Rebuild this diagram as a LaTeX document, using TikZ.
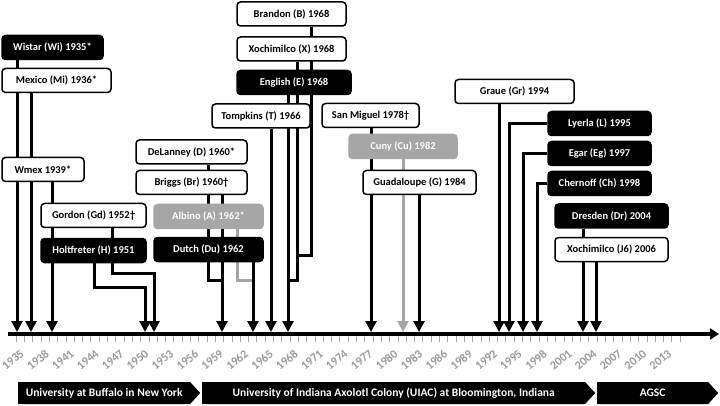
\documentclass[tikz,border=0pt]{standalone}
\usepackage{fontspec}
\setmainfont{Carlito}
\usetikzlibrary{arrows.meta,backgrounds,shapes.symbols}
\definecolor{straingray}{RGB}{166,166,166}
\definecolor{yeargray}{RGB}{155,155,155}
\definecolor{tickgray}{RGB}{170,170,170}

\begin{document}
\begin{tikzpicture}[
			x=1pt, y=-1pt,
			font=\bfseries\fontsize{10.5}{12}\selectfont,
			strain/.style={draw=black, line width=1.5pt, fill=white, rectangle, rounded corners=3.5pt, minimum height=24pt, inner sep=0pt, align=center, text=black},
			darkstrain/.style={strain, fill=black, text=white},
			graystrain/.style={strain, draw=straingray, fill=straingray, text=white},
			link/.style={draw=black, line width=3pt, -{Triangle[width=11pt,length=11pt]}},
			graylink/.style={link, draw=straingray},
			mergeline/.style={draw=black, line width=3pt},
			graymerge/.style={mergeline, draw=straingray},
			era/.style={signal, signal to=east, signal from=nowhere, signal pointer angle=95, fill=black, text=white, minimum height=22pt, inner sep=0pt, anchor=west, font=\bfseries\fontsize{11.5}{13}\selectfont},
			yearlabel/.style={rotate=40, anchor=east, text=yeargray, inner sep=0pt, font=\bfseries\fontsize{12}{14}\selectfont}
			]
			\useasboundingbox (0,0) rectangle (720,406);
			
			% Time axis with yearly ticks
			\coordinate (axis-start) at (8,334);
			\coordinate (axis-end) at (719,334);
			\draw[line width=4pt, -{Triangle[width=11pt,length=9pt]}] (axis-start) -- (axis-end);
			\foreach \yr in {1935,...,2015}
				\draw[tickgray, line width=0.6pt] ({16+8.3*(\yr-1935)},336) -- ++(0,6);
			\foreach \yr in {1935,1938,...,2013}
				\node[yearlabel] at ({16+8.3*(\yr-1935)+6.5},352) {\yr};
			
			% Arrival points on the axis
			\coordinate (hit-wi) at (17,332);
			\coordinate (hit-mi) at (31,332);
			\coordinate (hit-wm) at (52,332);
			\coordinate (hit-ho) at (145,332);
			\coordinate (hit-gd) at (154,332);
			\coordinate (hit-br) at (222,332);
			\coordinate (hit-du) at (253,332);
			\coordinate (hit-tp) at (271,332);
			\coordinate (hit-en) at (288,332);
			\coordinate (hit-sm) at (371,332);
			\coordinate (hit-cu) at (403,332);
			\coordinate (hit-gu) at (419,332);
			\coordinate (hit-gr) at (499,332);
			\coordinate (hit-ly) at (509,332);
			\coordinate (hit-eg) at (523,332);
			\coordinate (hit-ch) at (537,332);
			\coordinate (hit-dr) at (583,332);
			\coordinate (hit-j6) at (596,332);
			
			% Buffalo strains
			\node[darkstrain, minimum width=101pt] (wi) at (52.5,47.5) {Wistar (Wi) 1935*};
			\node[strain, minimum width=109pt] (mi) at (56.5,80.5) {Mexico (Mi) 1936*};
			\node[strain, minimum width=82pt] (wm) at (43,169.5) {Wmex 1939*};
			\node[strain, minimum width=105pt] (gd) at (93.5,215.5) {Gordon (Gd) 1952†};
			\node[darkstrain, minimum width=105pt] (ho) at (93.5,250.5) {Holtfreter (H) 1951};
			
			% Strains of the sixties
			\node[strain, minimum width=111pt] (de) at (191.5,152) {DeLanney (D) 1960*};
			\node[strain, minimum width=111pt] (br) at (191.5,182.5) {Briggs (Br) 1960†};
			\node[graystrain, minimum width=109pt] (al) at (208.5,216.5) {Albino (A) 1962*};
			\node[darkstrain, minimum width=109pt] (du) at (208.5,249.5) {Dutch (Du) 1962};
			\node[strain, minimum width=109pt] (bd) at (291.5,14) {Brandon (B) 1968};
			\node[strain, minimum width=109pt] (xo) at (291.5,49) {Xochimilco (X) 1968};
			\node[darkstrain, minimum width=114pt] (en) at (294,82.5) {English (E) 1968};
			\node[strain, minimum width=98pt] (tp) at (261,116) {Tompkins (T) 1966};
			
			% Strains of the seventies and eighties
			\node[strain, minimum width=97pt] (sm) at (370.5,115.5) {San Miguel 1978†};
			\node[graystrain, minimum width=108pt] (cu) at (403,146.5) {Cuny (Cu) 1982};
			\node[strain, minimum width=113pt] (gu) at (419.5,182.5) {Guadaloupe (G) 1984};
			
			% Strains of the nineties and later
			\node[strain, minimum width=119pt] (gr) at (514.5,91.5) {Graue (Gr) 1994};
			\node[darkstrain, minimum width=103pt] (ly) at (599.5,123.5) {Lyerla (L) 1995};
			\node[darkstrain, minimum width=103pt] (eg) at (599.5,153.5) {Egar (Eg) 1997};
			\node[darkstrain, minimum width=103pt] (ch) at (599.5,183.5) {Chernoff (Ch) 1998};
			\node[darkstrain, minimum width=113pt] (dr) at (611.5,216) {Dresden (Dr) 2004};
			\node[strain, minimum width=113pt] (j6) at (611.5,249.5) {Xochimilco (J6) 2006};
			
			% Lines to the axis, behind the boxes
			\begin{scope}[on background layer]
				\draw[link] (wi.south -| hit-wi) -- (hit-wi);
				\draw[link] (mi.south -| hit-mi) -- (hit-mi);
				\draw[link] (wm.south -| hit-wm) -- (hit-wm);
				\draw[link] (ho.south -| 94,0) -- ++(0,24) -| (hit-ho);
				\draw[link] (gd.south -| 112,0) -- ++(0,45) -| (hit-gd);
				\draw[mergeline] (de.south -| 208,0) -- ++(0,116) -- ++(14,0);
				\draw[link] (br.south -| hit-br) -- (hit-br);
				\draw[graymerge] (al.south -| 237,0) -- ++(0,51) -- ++(16,0);
				\draw[link] (du.south -| hit-du) -- (hit-du);
				\draw[link] (tp.south -| hit-tp) -- (hit-tp);
				\draw[mergeline] (bd.south -| 311,0) -- ++(0,229) -- ++(-14,0);
				\draw[mergeline] (xo.south -| 297,0) -- ++(0,219) -- ++(-9,0);
				\draw[link] (en.south -| hit-en) -- (hit-en);
				\draw[link] (sm.south -| hit-sm) -- (hit-sm);
				\draw[graylink] (cu.south -| hit-cu) -- (hit-cu);
				\draw[link] (gu.south -| hit-gu) -- (hit-gu);
				\draw[link] (gr.south -| hit-gr) -- (hit-gr);
				\draw[link] (ly.west) -| (hit-ly);
				\draw[link] (eg.west) -| (hit-eg);
				\draw[link] (ch.west) -| (hit-ch);
				\draw[link] (dr.south -| hit-dr) -- (hit-dr);
				\draw[link] (j6.south -| hit-j6) -- (hit-j6);
			\end{scope}
			
			% Colony periods
			\node[era, minimum width=182pt] (buffalo) at (18,393) {University at Buffalo in New York};
			\node[era, minimum width=393pt] (uiac) at (202,393) {University of Indiana Axolotl Colony (UIAC) at Bloomington, Indiana};
			\node[era, minimum width=121pt] (agsc) at (597,393) {AGSC};
			
		\end{tikzpicture}
\end{document}
